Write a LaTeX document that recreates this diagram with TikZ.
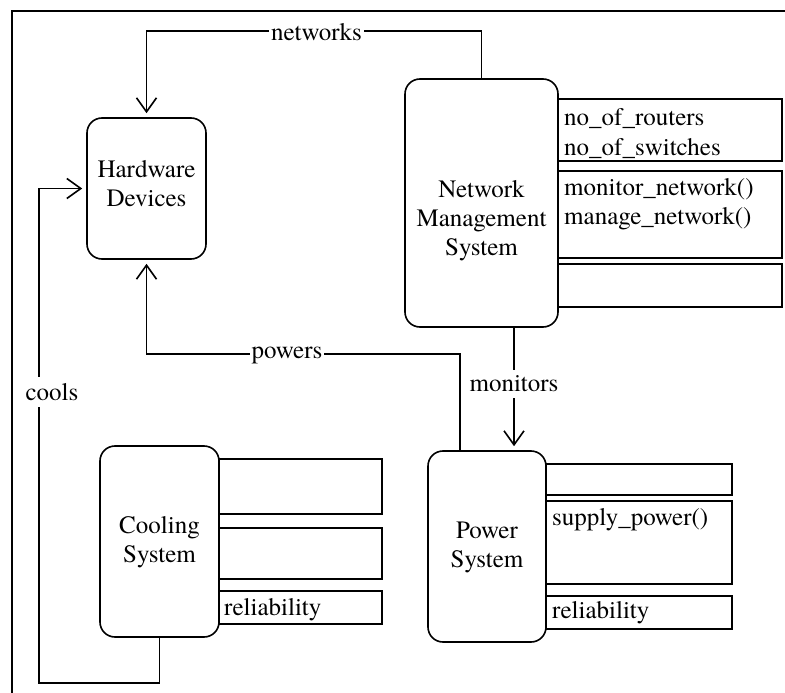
\documentclass[tikz,border=0pt]{standalone}
\usepackage{fontspec}
\setmainfont{TeX Gyre Termes}
\usetikzlibrary{arrows.meta}
\begin{document}
\begin{tikzpicture}[x=1pt,y=-1pt,
  lw/.style={line width=1.6pt},
  cls/.style={draw,lw,rounded corners=15pt,inner sep=0pt},
  attr/.style={draw,lw,inner sep=0pt},
  txt/.style={font=\fontsize{25}{29}\selectfont, inner sep=0pt},
  ctxt/.style={txt,align=center},
  atxt/.style={txt,anchor=base west},
  arr/.style={lw,-{Straight Barb[length=14pt,width=20pt,line width=1.6pt]},shorten >=4pt},
  lab/.style={txt,fill=white,inner xsep=2pt,inner ysep=3pt}]
\useasboundingbox (0,0) rectangle (785,693);
% border
\coordinate (bTR) at (785,11);
\coordinate (bTL) at (12,11);
\coordinate (bBL) at (12,693);
\draw[lw] (bTR) -- (bTL) -- (bBL);
% class boxes
\node[cls,minimum width=119pt,minimum height=141pt] (hd) at (146.5,188.5) {};
\node[ctxt] (hdT) at (146.5,184) {Hardware\\Devices};
\node[cls,minimum width=153pt,minimum height=248pt] (nms) at (481.5,203) {};
\node[ctxt] (nmsT) at (481.5,221) {Network\\Management\\System};
\node[cls,minimum width=118pt,minimum height=191pt] (ps) at (487,546.5) {};
\node[ctxt] (psT) at (487,547) {Power\\System};
\node[cls,minimum width=119pt,minimum height=191pt] (cs) at (159.5,541.5) {};
\node[ctxt] (csT) at (159.5,542) {Cooling\\System};
% attribute boxes
\node[attr,minimum width=224pt,minimum height=62pt] (a1) at (670,130) {};
\node[attr,minimum width=224pt,minimum height=87pt] (a2) at (670,214.5) {};
\node[attr,minimum width=224pt,minimum height=43pt] (a3) at (670,285.5) {};
\node[attr,minimum width=186pt,minimum height=31pt] (b1) at (639,479.5) {};
\node[attr,minimum width=186pt,minimum height=83pt] (b2) at (639,542.5) {};
\node[attr,minimum width=186pt,minimum height=33pt] (b3) at (639,612.5) {};
\node[attr,minimum width=163pt,minimum height=55pt] (c1) at (300.5,486.5) {};
\node[attr,minimum width=163pt,minimum height=51pt] (c2) at (300.5,553.5) {};
\node[attr,minimum width=163pt,minimum height=33pt] (c3) at (300.5,607.5) {};
% attribute texts
\node[atxt] (t1) at (564,125) {no\_of\_routers};
\node[atxt] (t2) at (564,155) {no\_of\_switches};
\node[atxt] (t3) at (564,195) {monitor\_network()};
\node[atxt] (t4) at (564,224) {manage\_network()};
\node[atxt] (t5) at (552,525) {supply\_power()};
\node[atxt] (t6) at (552,618) {reliability};
\node[atxt] (t7) at (224,615) {reliability};
% connectors
\draw[arr] (nms.north) -- ++(0,-47) -| (hd.north);
\node[lab] (netL) at (316.5,32) {networks\hspace{9pt}};
\draw[arr] ([xshift=-27pt]ps.north) -- ++(0,-96) -| (hd.south);
\node[lab] (powL) at (287,355) {powers\hspace{9pt}};
\draw[arr] ([xshift=32.5pt]nms.south) -- ([xshift=27pt]ps.north)
  node[lab,inner ysep=6pt,pos=0.46] (monL) {monitors};
\coordinate (cb) at (39,683);
\draw[arr] (cs.south) |- (cb) |- (hd.west);
\node[lab,inner ysep=6pt] (coolL) at (52,392) {cools};
\end{tikzpicture}
\end{document}
